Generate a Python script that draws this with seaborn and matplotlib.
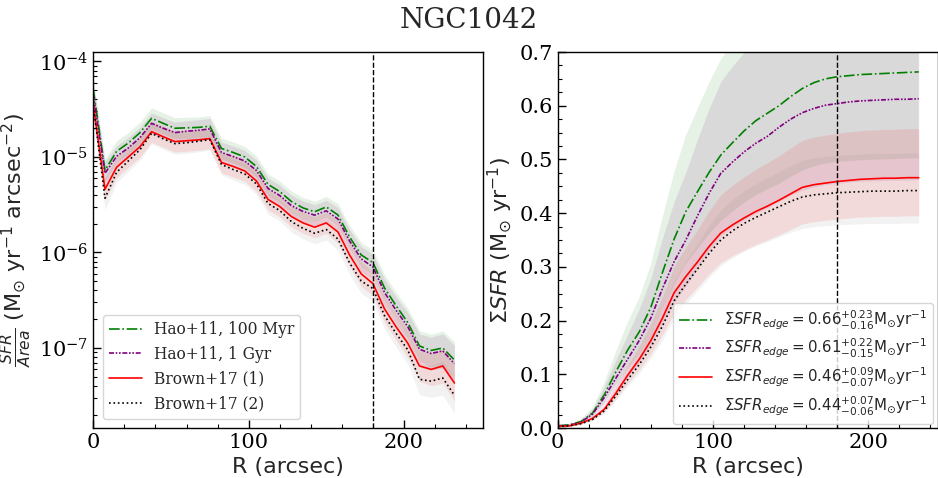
import numpy as np
import pandas as pd
import matplotlib
matplotlib.use("Agg")
import matplotlib.pyplot as plt
from matplotlib.ticker import AutoMinorLocator, MultipleLocator
import seaborn as sns

# ---------------- data ----------------
R = [0, 7.5, 15, 22.5, 30, 37.5, 45, 52.5, 60, 67.5, 75, 82.5, 90, 97.5, 105, 112.5,
     120, 127.5, 135, 142.5, 150, 157.5, 165, 172.5, 180, 187.5, 195, 202.5, 210, 217.5, 225, 232.5]

# surface density of SFR (Msun/yr/arcsec^2)
sd_hao100 = [5.04e-5, 7.26e-6, 1.147e-5, 1.40e-5, 1.795e-5, 2.54e-5, 2.25e-5, 2.00e-5, 2.02e-5, 2.04e-5,
             2.10e-5, 1.228e-5, 1.116e-5, 1.001e-5, 7.96e-6, 5.16e-6, 4.35e-6, 3.42e-6, 2.93e-6, 2.67e-6,
             3.00e-6, 2.47e-6, 1.452e-6, 9.42e-7, 7.85e-7, 4.25e-7, 2.76e-7, 1.84e-7, 1.05e-7, 9.42e-8,
             1.00e-7, 7.49e-8]
sd_hao1g = [4.47e-5, 6.75e-6, 1.017e-5, 1.242e-5, 1.59e-5, 2.25e-5, 2.00e-5, 1.80e-5, 1.86e-5, 1.90e-5,
            1.97e-5, 1.114e-5, 1.012e-5, 9.08e-6, 7.23e-6, 4.68e-6, 3.95e-6, 3.10e-6, 2.69e-6, 2.46e-6,
            2.73e-6, 2.24e-6, 1.319e-6, 8.56e-7, 7.06e-7, 3.81e-7, 2.47e-7, 1.668e-7, 9.69e-8, 8.76e-8,
            9.31e-8, 6.86e-8]
sd_brown1 = [3.51e-5, 4.59e-6, 7.80e-6, 1.00e-5, 1.28e-5, 1.84e-5, 1.63e-5, 1.45e-5, 1.48e-5, 1.51e-5,
             1.56e-5, 8.76e-6, 7.96e-6, 7.14e-6, 5.61e-6, 3.59e-6, 3.03e-6, 2.38e-6, 2.04e-6, 1.84e-6,
             2.04e-6, 1.64e-6, 9.41e-7, 5.96e-7, 4.73e-7, 2.56e-7, 1.66e-7, 1.12e-7, 6.48e-8, 5.96e-8,
             6.48e-8, 4.30e-8]
sd_brown2 = [3.43e-5, 3.70e-6, 6.92e-6, 9.08e-6, 1.19e-5, 1.77e-5, 1.55e-5, 1.38e-5, 1.41e-5, 1.46e-5,
             1.52e-5, 8.35e-6, 7.40e-6, 6.64e-6, 5.22e-6, 3.26e-6, 2.75e-6, 2.11e-6, 1.79e-6, 1.59e-6,
             1.74e-6, 1.385e-6, 7.76e-7, 5.03e-7, 4.19e-7, 2.18e-7, 1.416e-7, 9.53e-8, 4.70e-8, 4.49e-8,
             4.85e-8, 3.20e-8]
# uncertainty of the surface density (dex)
sd_err_dex = [0.11, 0.12, 0.11, 0.11, 0.11, 0.11, 0.11, 0.11, 0.11, 0.11, 0.11, 0.11, 0.11, 0.11, 0.11, 0.11,
              0.11, 0.11, 0.11, 0.11, 0.11, 0.12, 0.12, 0.13, 0.13, 0.14, 0.14, 0.15, 0.16, 0.17, 0.18, 0.19]

# cumulative SFR (Msun/yr)
cum_hao100 = [0.004, 0.006, 0.012, 0.028, 0.062, 0.105, 0.145, 0.179, 0.225, 0.290, 0.352, 0.403, 0.440,
              0.476, 0.508, 0.531, 0.553, 0.572, 0.586, 0.600, 0.617, 0.632, 0.643, 0.650, 0.654, 0.656,
              0.658, 0.659, 0.660, 0.661, 0.662, 0.663]
cum_hao1g = [0.004, 0.005, 0.011, 0.026, 0.057, 0.093, 0.128, 0.163, 0.205, 0.260, 0.310, 0.350, 0.395,
             0.437, 0.474, 0.495, 0.514, 0.530, 0.543, 0.560, 0.575, 0.587, 0.595, 0.601, 0.604, 0.607,
             0.609, 0.610, 0.611, 0.612, 0.612, 0.613]
cum_brown1 = [0.003, 0.004, 0.009, 0.018, 0.035, 0.065, 0.098, 0.128, 0.163, 0.205, 0.252, 0.282, 0.309,
              0.338, 0.363, 0.378, 0.391, 0.403, 0.413, 0.424, 0.436, 0.448, 0.453, 0.456, 0.459, 0.461,
              0.463, 0.464, 0.465, 0.465, 0.466, 0.466]
cum_brown2 = [0.003, 0.004, 0.008, 0.016, 0.032, 0.060, 0.090, 0.118, 0.151, 0.190, 0.237, 0.268, 0.296,
              0.325, 0.350, 0.367, 0.381, 0.392, 0.402, 0.412, 0.422, 0.430, 0.434, 0.436, 0.438, 0.439,
              0.440, 0.441, 0.441, 0.441, 0.442, 0.442]

# edge values and errors (legend)
edge_val = [0.66, 0.61, 0.46, 0.44]
edge_up = [0.23, 0.22, 0.09, 0.07]
edge_lo = [0.16, 0.15, 0.07, 0.06]

left_labels = ["Hao+11, 100 Myr", "Hao+11, 1 Gyr", "Brown+17 (1)", "Brown+17 (2)"]
colors = ["green", "purple", "red", "black"]
band_colors = ["green", "purple", "red", "grey"]
R_edge = 180
title = "NGC1042"

# ---------------- style ----------------
sns.set_style("ticks")
plt.rcParams["font.family"] = ["DejaVu Serif"]
plt.rcParams["mathtext.fontset"] = "dejavusans"
plt.rcParams["axes.edgecolor"] = "black"
plt.rcParams["xtick.color"] = "black"
plt.rcParams["ytick.color"] = "black"

styles = [dict(linestyle="-."), dict(dashes=(3, 1, 1, 1, 1, 1)), dict(linestyle="-"), dict(linestyle=":")]

fig = plt.figure(figsize=(9.38, 4.78), dpi=100)
ax1 = fig.add_axes([0.0995, 0.1046, 0.4151, 0.7866])
ax2 = fig.add_axes([0.5946, 0.1046, 0.4049, 0.7866])

R_arr = np.array(R)
err = np.array(sd_err_dex)
sd_list = [sd_hao100, sd_hao1g, sd_brown1, sd_brown2]
cum_list = [cum_hao100, cum_hao1g, cum_brown1, cum_brown2]

# left panel
for vals, bc in zip(sd_list, band_colors):
    v = np.array(vals)
    ax1.fill_between(R_arr, v / 10**err, v * 10**err, color=bc, alpha=0.1, lw=0)
for vals, c, lab, st in zip(sd_list, colors, left_labels, styles):
    df = pd.DataFrame({"R": R, "v": vals})
    sns.lineplot(data=df, x="R", y="v", ax=ax1, color=c, lw=1.2, label=lab, **st)
ax1.axvline(R_edge, color="black", ls="--", lw=1)
ax1.set_yscale("log")
ax1.set_xlim(0, 250.7)
ax1.set_ylim(1.452e-8, 1.257e-4)
ax1.set_xlabel("R (arcsec)", fontsize=16, family="DejaVu Sans")
ax1.set_ylabel(r"$\frac{SFR}{Area}$ (M$_{\odot}$ yr$^{-1}$ arcsec$^{-2}$)", fontsize=16, family="DejaVu Sans")
ax1.legend(loc="lower left", fontsize=11.2, frameon=True, handlelength=2.1, borderaxespad=0.6)

# right panel
for i, (vals, bc) in enumerate(zip(cum_list, band_colors)):
    v = np.array(vals)
    up = 1 + edge_up[i] / edge_val[i]
    lo = 1 - edge_lo[i] / edge_val[i]
    ax2.fill_between(R_arr, v * lo, v * up, color=bc, alpha=0.1, lw=0)
for i, (vals, c, st) in enumerate(zip(cum_list, colors, styles)):
    lab = (r"$\Sigma SFR_{edge} = %.2f^{+%.2f}_{-%.2f}\mathrm{M_{\odot}yr^{-1}}$"
           % (edge_val[i], edge_up[i], edge_lo[i]))
    df = pd.DataFrame({"R": R, "v": vals})
    sns.lineplot(data=df, x="R", y="v", ax=ax2, color=c, lw=1.2, label=lab, **st)
ax2.axvline(R_edge, color="black", ls="--", lw=1)
ax2.set_xlim(0, 244.6)
ax2.set_ylim(0, 0.7)
ax2.set_xlabel("R (arcsec)", fontsize=16, family="DejaVu Sans")
ax2.set_ylabel(r"$\Sigma SFR$ (M$_{\odot}$ yr$^{-1}$)", fontsize=16, family="DejaVu Sans")
ax2.legend(loc="lower right", fontsize=10.8, frameon=True, handlelength=2.2, borderaxespad=0.3,
           labelspacing=0.35)
ax2.yaxis.set_minor_locator(AutoMinorLocator(4))

for ax in (ax1, ax2):
    ax.xaxis.set_major_locator(MultipleLocator(100))
    ax.xaxis.set_minor_locator(MultipleLocator(20))
    ax.tick_params(which="both", direction="in", labelsize=15)
    ax.tick_params(which="major", length=6, width=1)
    ax.tick_params(which="minor", length=3, width=0.8)
    for s in ax.spines.values():
        s.set_linewidth(1)

fig.suptitle(title, fontsize=20, y=0.985)
fig.savefig("out.png", dpi=100)
